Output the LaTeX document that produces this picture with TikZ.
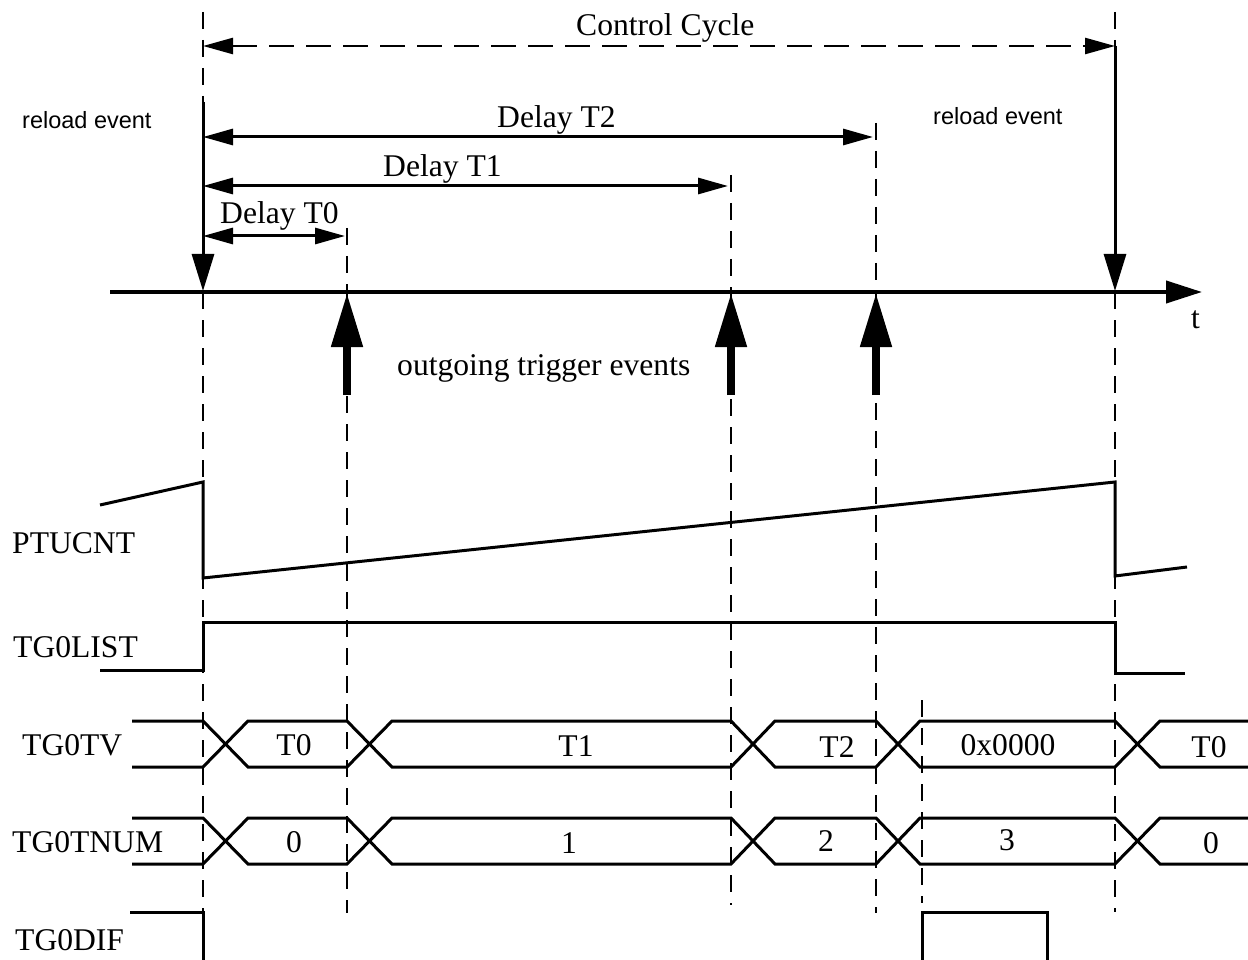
\documentclass[tikz,border=0pt]{standalone}
\usepackage{fontspec}
\setmainfont{Liberation Serif}
\newfontfamily\arialf{Liberation Sans}
\usetikzlibrary{arrows.meta}
\begin{document}
\begin{tikzpicture}[x=1pt,y=-1pt,
  sig/.style={line width=3pt, line join=miter},
  vdash/.style={line width=2.5pt, dash pattern=on 17pt off 11pt},
  dimtip/.style={{Triangle[length=30pt,width=16pt]}-{Triangle[length=30pt,width=16pt]}},
  lbl/.style={font=\fontsize{31.6}{36}\selectfont, inner sep=0pt, anchor=base west},
  val/.style={font=\fontsize{31.6}{36}\selectfont, inner sep=0pt, anchor=base},
  sans/.style={font=\arialf\fontsize{23.5}{28}\selectfont, inner sep=0pt, anchor=base west}]
\useasboundingbox (0,0) rectangle (1248,960);

% key coordinates
\coordinate (cA) at (203,46);
\coordinate (cE) at (1115,46);
\coordinate (d2A) at (203,137);
\coordinate (d2E) at (873,137);
\coordinate (d1A) at (203,186);
\coordinate (d1E) at (728,186);
\coordinate (d0A) at (203,236);
\coordinate (d0E) at (345,236);
\coordinate (rA) at (203,102);
\coordinate (rAt) at (203,291);
\coordinate (rE) at (1115,46);
\coordinate (rEt) at (1115,291);
\coordinate (ax0) at (110,292);
\coordinate (ax1) at (1202,292);
\coordinate (uB0) at (347,395);
\coordinate (uB1) at (347,293);
\coordinate (uC0) at (731,395);
\coordinate (uC1) at (731,293);
\coordinate (uD0) at (876,395);
\coordinate (uD1) at (876,293);

% vertical dashed guides
\draw[vdash] (203,12) -- (203,102);
\draw[vdash] (203,292) -- (203,912);
\draw[vdash] (347,228) -- (347,913);
\draw[vdash] (731,175) -- (731,905);
\draw[vdash] (876,123) -- (876,913);
\draw[vdash] (922,700) -- (922,903);
\draw[vdash] (1115,12) -- (1115,46);
\draw[vdash] (1115,292) -- (1115,912);

% control cycle and delays
\draw[line width=2.5pt, dash pattern=on 25pt off 12pt, dimtip] (cA) -- (cE);
\draw[line width=3pt, dimtip] (d2A) -- (d2E);
\draw[line width=3pt, dimtip] (d1A) -- (d1E);
\draw[line width=3pt, dimtip] (d0A) -- (d0E);

% reload arrows
\draw[line width=3pt, -{Triangle[length=37pt,width=22pt]}] (rA) -- (rAt);
\draw[line width=3pt, -{Triangle[length=37pt,width=22pt]}] (rE) -- (rEt);

% time axis
\draw[line width=4pt, -{Triangle[length=36pt,width=22pt]}] (ax0) -- (ax1);

% outgoing triggers
\draw[line width=8pt, -{Triangle[length=54pt,width=30pt]}] (uB0) -- (uB1);
\draw[line width=8pt, -{Triangle[length=54pt,width=30pt]}] (uC0) -- (uC1);
\draw[line width=8pt, -{Triangle[length=54pt,width=30pt]}] (uD0) -- (uD1);

% PTUCNT
\draw[sig] (100,505) -- (203,482) -- (203,578) -- (1115,482) -- (1115,576) -- (1187,567);
% TG0LIST
\draw[sig] (100,670) -- (203,670) -- (203,622) -- (1115,622) -- (1115,673) -- (1185,673);
% TG0TV
\draw[sig] (132,721) -- (203,721) -- (248,767) -- (347,767) -- (392,721) -- (731,721) -- (775,767) -- (876,767) -- (920,721) -- (1115,721) -- (1160,767) -- (1248,767);
\draw[sig] (132,767) -- (203,767) -- (248,721) -- (347,721) -- (392,767) -- (731,767) -- (775,721) -- (876,721) -- (920,767) -- (1115,767) -- (1160,721) -- (1248,721);
% TG0TNUM
\draw[sig] (132,818) -- (203,818) -- (248,864) -- (347,864) -- (392,818) -- (731,818) -- (775,864) -- (876,864) -- (920,818) -- (1115,818) -- (1160,864) -- (1248,864);
\draw[sig] (132,864) -- (203,864) -- (248,818) -- (347,818) -- (392,864) -- (731,864) -- (775,818) -- (876,818) -- (920,864) -- (1115,864) -- (1160,818) -- (1248,818);
% TG0DIF
\draw[sig] (130,912) -- (203,912) -- (203,962);
\draw[sig] (922,962) -- (922,912) -- (1047,912) -- (1047,962);

% texts
\node[lbl] (cc) at (576,36) {Control Cycle};
\node[sans] (re1) at (22,129) {reload event};
\node[sans] (re2) at (933,125) {reload event};
\node[lbl] (dt2) at (497,128) {Delay T2};
\node[lbl] (dt1) at (383,177) {Delay T1};
\node[lbl] (dt0) at (220,224) {Delay T0};
\node[lbl] (tt) at (1191,328) {t};
\node[lbl] (ote) at (397,375) {outgoing trigger events};

\node[lbl] (l1) at (12,553) {PTUCNT};
\node[lbl] (l2) at (13,657) {TG0LIST};
\node[lbl] (l3) at (22,755) {TG0TV};
\node[lbl] (l4) at (12,852) {TG0TNUM};
\node[lbl] (l5) at (15,950) {TG0DIF};

\node[val] (v1) at (294,755) {T0};
\node[val] (v2) at (576,756) {T1};
\node[val] (v3) at (837,757) {T2};
\node[val] (v4) at (1008,755) {0x0000};
\node[val] (v5) at (1209,757) {T0};
\node[val] (n1) at (294,852) {0};
\node[val] (n2) at (569,853) {1};
\node[val] (n3) at (826,851) {2};
\node[val] (n4) at (1007,850) {3};
\node[val] (n5) at (1211,853) {0};
\end{tikzpicture}
\end{document}
